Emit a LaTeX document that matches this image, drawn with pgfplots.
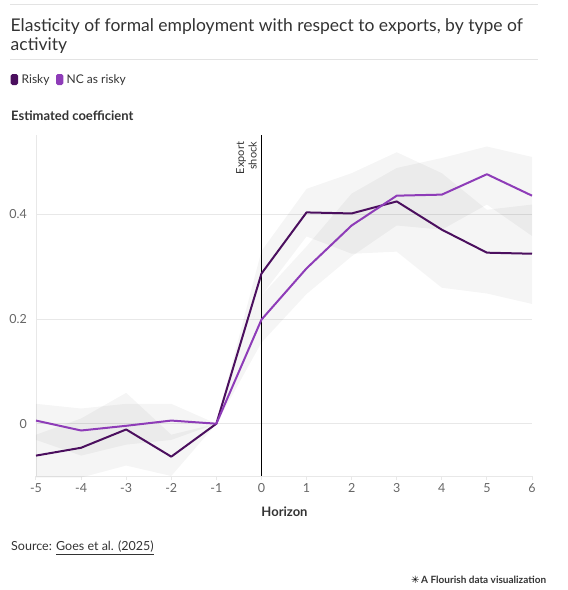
\documentclass[border=0pt]{standalone}
\usepackage{pgfplots}
\pgfplotsset{compat=1.18}
\usepackage{fontspec}
\setmainfont{Lato}
\newfontfamily\symfont{DejaVu Sans}
\definecolor{risky}{HTML}{4B0F5E}
\definecolor{ncrisky}{HTML}{8E3CB8}
\definecolor{titlegray}{HTML}{333333}
\definecolor{tickgray}{HTML}{666666}
\definecolor{rulegray}{HTML}{E3E3E3}
\definecolor{gridgray}{HTML}{E8E8E8}
\begin{document}
\begin{tikzpicture}
\path[use as bounding box] (0pt,0pt) rectangle (568pt,-590pt);
\begin{scope}[x=1pt,y=-1pt]
% rules
\draw[rulegray, line width=1pt] (10,4.5) -- (538,4.5);
\draw[rulegray, line width=1pt] (10,59.5) -- (538,59.5);
% title
\node[anchor=base west, inner sep=0, text=titlegray, font=\fontsize{17.5}{20}\selectfont] at (10.5,31.7) {Elasticity of formal employment with respect to exports, by type of};
\node[anchor=base west, inner sep=0, text=titlegray, font=\fontsize{17.5}{20}\selectfont] at (10.5,50.7) {activity};
% legend
\fill[risky, rounded corners=1.6pt] (10.7,74) rectangle (18,85);
\node[anchor=base west, inner sep=0, text=titlegray, font=\fontsize{12}{14}\selectfont] at (21.5,83.3) {Risky};
\fill[ncrisky, rounded corners=1.6pt] (56,74) rectangle (63.3,85);
\node[anchor=base west, inner sep=0, text=titlegray, font=\fontsize{12}{14}\selectfont] at (66.5,83.3) {NC as risky};
% y title
\node[anchor=base west, inner sep=0, text=titlegray, font=\fontsize{13}{15}\bfseries\selectfont] at (11,120.7) {Estimated coefficient};
% x title
\node[anchor=base, inner sep=0, text=titlegray, font=\fontsize{13}{15}\bfseries\selectfont] at (284.5,516) {Horizon};
% source
\node[anchor=base west, inner sep=0, text=titlegray, font=\fontsize{12.5}{15}\selectfont] at (11,550.7) {Source: \underline{Goes et al. (2025)}};
% flourish
\node[anchor=base west, inner sep=0, font=\fontsize{10}{12}\selectfont] at (411,583) {{\symfont ✳}\,\textcolor{titlegray}{\bfseries A Flourish data visualization}};
\end{scope}
\begin{axis}[
  at={(36pt,-476pt)}, anchor=south west,
  scale only axis, width=496pt, height=341pt,
  xmin=-5, xmax=6, ymin=-0.1, ymax=0.552,
  separate axis lines,
  axis x line*=bottom, axis y line*=left,
  x axis line style={draw=gridgray, line width=1pt},
  y axis line style={draw=gridgray, line width=0.8pt},
  xtick={-5,-4,-3,-2,-1,0,1,2,3,4,5,6},
  ytick={0,0.2,0.4},
  yticklabels={0,0.2,0.4},
  xtick align=outside,
  major tick length=4pt,
  xtick style={draw=gridgray, line width=1pt},
  ytick style={draw=none},
  ymajorgrids, grid style={draw=gridgray, line width=1pt},
  /pgf/number format/assume math mode=true,
  tick label style={font=\fontsize{12.5}{14}\selectfont, text=tickgray},
  yticklabel style={inner sep=0pt, anchor=east, xshift=-9pt},
  xticklabel style={inner sep=0pt, anchor=north, yshift=-3pt},
  clip=false,
]
% confidence bands
\addplot[draw=none, fill=black, fill opacity=0.04] coordinates {
 (-5,-0.021) (-4,0.010) (-3,0.059) (-2,-0.021) (-1,0) (0,0.330) (1,0.449) (2,0.479) (3,0.519) (4,0.479) (5,0.409) (6,0.419)
 (6,0.229) (5,0.249) (4,0.260) (3,0.329) (2,0.325) (1,0.358) (0,0.245) (-1,0) (-2,-0.100) (-3,-0.080) (-4,-0.103) (-5,-0.103)
} -- cycle;
\addplot[draw=none, fill=black, fill opacity=0.04] coordinates {
 (-5,0.038) (-4,0.029) (-3,0.038) (-2,0.038) (-1,0) (0,0.245) (1,0.339) (2,0.440) (3,0.489) (4,0.508) (5,0.530) (6,0.510)
 (6,0.359) (5,0.419) (4,0.371) (3,0.379) (2,0.320) (1,0.248) (0,0.155) (-1,0) (-2,-0.031) (-3,-0.040) (-4,-0.061) (-5,-0.031)
} -- cycle;
% export shock line
\draw[black, line width=1.2pt] (axis cs:0,-0.1) -- (axis cs:0,0.552);
\node[rotate=90, anchor=south east, align=right, inner sep=0pt, text=titlegray,
      font=\fontsize{11}{12.5}\selectfont]
      at ([xshift=-4.5pt, yshift=-6.7pt]axis cs:0,0.552) {Export\\shock};
% series
\addplot[risky, line width=2pt, line join=round, mark=none] coordinates {
 (-5,-0.061) (-4,-0.046) (-3,-0.011) (-2,-0.063) (-1,0) (0,0.287) (1,0.404) (2,0.402) (3,0.425) (4,0.371) (5,0.327) (6,0.325)
};
\addplot[ncrisky, line width=2pt, line join=round, mark=none] coordinates {
 (-5,0.006) (-4,-0.013) (-3,-0.004) (-2,0.006) (-1,0) (0,0.199) (1,0.297) (2,0.379) (3,0.436) (4,0.438) (5,0.477) (6,0.436)
};
\end{axis}
\end{tikzpicture}
\end{document}
